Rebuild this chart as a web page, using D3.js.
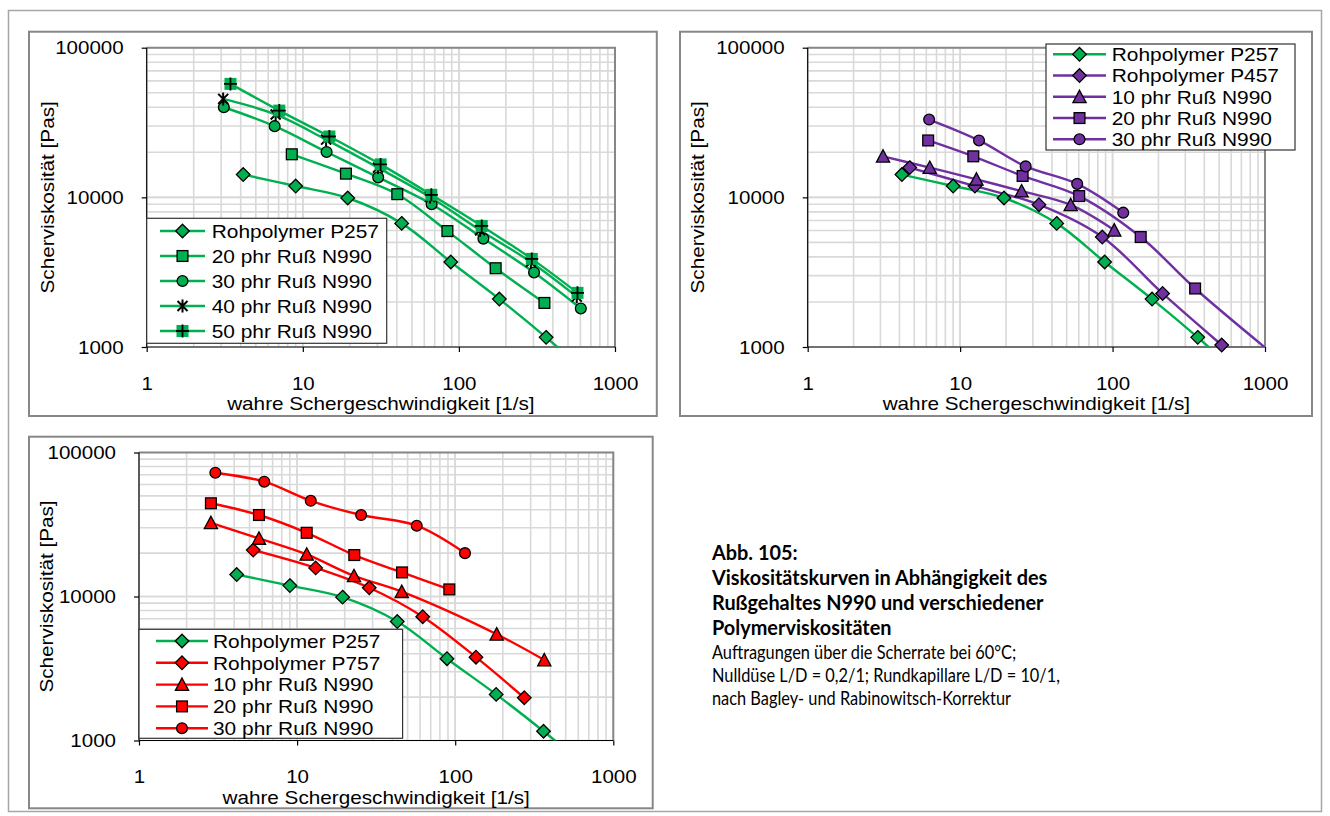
<!DOCTYPE html>
<html>
<head>
<meta charset="utf-8">
<script src="https://cdn.jsdelivr.net/npm/d3@7"></script>
<style>
  body { margin: 0; background: #fff; }
  svg text { font-family: "Liberation Sans", Arial, sans-serif; fill: #000; }
  .caption text { font-family: Lato, "Open Sans", sans-serif; }
</style>
</head>
<body>
<svg id="fig" width="1330" height="816"></svg>
<script>
// ---- axis ticks -------------------------------------------------------
const xTicks = [1, 10, 100, 1000];
const yTicks = [1000, 10000, 100000];

// ---- Rohpolymer P257 (appears in every diagram) -----------------------
const rateP257 = [4.15, 9.0, 19.4, 43, 88.7, 181.6, 362, 720];
const viscP257 = [14200, 11900, 9900, 6700, 3700, 2090, 1160, 620];

// ---- diagram 1: P257 filled with N990 ---------------------------------
const rateA20 = [8.5, 18.9, 40.3, 84.4, 172, 353];
const viscA20 = [19400, 14400, 10500, 5950, 3360, 1970];
const rateA30 = [3.12, 6.6, 14.2, 30.4, 66.9, 143.5, 303, 604];
const viscA30 = [40000, 29900, 20100, 13600, 9000, 5300, 3150, 1810];
const rateA40 = [3.09, 6.7, 14.1, 30.3, 65.3, 136.7, 289, 569];
const viscA40 = [45500, 35800, 24300, 15800, 10050, 6030, 3700, 2170];
const rateA50 = [3.44, 7.07, 14.8, 31.5, 66.6, 140, 293, 575];
const viscA50 = [57300, 38000, 25500, 16600, 10400, 6440, 3880, 2300];

// ---- diagram 2: P457 filled with N990 ---------------------------------
const rateP457 = [4.67, 12.5, 32.9, 85.6, 213, 520, 1050];
const viscP457 = [15800, 11900, 8930, 5430, 2280, 1030, 560];
const rateB10 = [3.12, 6.32, 12.8, 25.3, 53.1, 102.6];
const viscB10 = [18800, 15800, 13200, 11000, 8900, 6030];
const rateB20 = [6.17, 12.2, 25.7, 60.4, 153, 348, 1400];
const viscB20 = [24000, 18800, 13900, 10200, 5430, 2460, 750];
const rateB30 = [6.26, 13.3, 26.9, 58.6, 117.5];
const viscB30 = [33100, 24000, 16100, 12300, 7900];

// ---- diagram 3: P757 filled with N990 ---------------------------------
const rateP757 = [5.28, 13.1, 28.6, 62.3, 135.3, 273.5];
const viscP757 = [21000, 15800, 11500, 7240, 3790, 1980];
const rateC10 = [2.85, 5.74, 11.5, 22.9, 45.9, 183, 366];
const viscC10 = [32500, 25300, 19600, 13900, 10800, 5470, 3620];
const rateC20 = [2.85, 5.74, 11.5, 23.0, 46.1, 91.8];
const viscC20 = [44400, 36800, 27700, 19400, 14700, 11200];
const rateC30 = [3.04, 6.2, 12.2, 25.4, 57.1, 115.3];
const viscC30 = [72400, 62700, 46200, 36800, 31000, 20000];

// ---- legend labels ----------------------------------------------------
const labels1 = ["Rohpolymer P257", "20 phr Ruß N990", "30 phr Ruß N990", "40 phr Ruß N990", "50 phr Ruß N990"];
const labels2 = ["Rohpolymer P257", "Rohpolymer P457", "10 phr Ruß N990", "20 phr Ruß N990", "30 phr Ruß N990"];
const labels3 = ["Rohpolymer P257", "Rohpolymer P757", "10 phr Ruß N990", "20 phr Ruß N990", "30 phr Ruß N990"];

const xTitle = "wahre Schergeschwindigkeit [1/s]";
const yTitle = "Scherviskosität [Pas]";

const captionBold = ["Abb. 105:", "Viskositätskurven in Abhängigkeit des", "Rußgehaltes N990 und verschiedener", "Polymerviskositäten"];
const captionText = ["Auftragungen über die Scherrate bei 60°C;", "Nulldüse L/D = 0,2/1; Rundkapillare L/D = 10/1,", "nach Bagley- und Rabinowitsch-Korrektur"];

// ---- colours ----------------------------------------------------------
const GREEN = "#00b050", PURPLE = "#7030a0", RED = "#ff0000";
const FRAME = "#878787", GRID = "#d9d9d9";

const zip = (xs, ys) => xs.map((x, i) => ({ x, y: ys[i] }));

const svg = d3.select("#fig");

// outer page border
svg.append("rect").attr("x", 8.5).attr("y", 10.5).attr("width", 1313).attr("height", 801)
  .attr("fill", "none").attr("stroke", "#a6a6a6").attr("stroke-width", 1.5);

// scale a text node along its writing direction by factor k
function stretch(sel, k) {
  sel.each(function () {
    const w = this.getComputedTextLength();
    this.setAttribute("textLength", (w * k).toFixed(1));
    this.setAttribute("lengthAdjust", "spacingAndGlyphs");
  });
}

// marker painter
function marker(g, type, color) {
  const s = g.append("g");
  if (type === "diamond") {
    s.append("path").attr("d", "M0,-6.8L6.8,0L0,6.8L-6.8,0Z").attr("fill", color).attr("stroke", "#000").attr("stroke-width", 1.3);
  } else if (type === "square") {
    s.append("rect").attr("x", -5.4).attr("y", -5.4).attr("width", 10.8).attr("height", 10.8)
      .attr("fill", color).attr("stroke", "#000").attr("stroke-width", 1.3);
  } else if (type === "circle") {
    s.append("circle").attr("r", 5.4).attr("fill", color).attr("stroke", "#000").attr("stroke-width", 1.3);
  } else if (type === "triangle") {
    s.append("path").attr("d", "M0,-6.6L6.6,5.8L-6.6,5.8Z").attr("fill", color).attr("stroke", "#000").attr("stroke-width", 1.3);
  } else if (type === "star") {
    s.append("path").attr("d", "M-5,-5L5,5M-5,5L5,-5M0,-6.5L0,6.5").attr("stroke", "#000").attr("stroke-width", 2).attr("fill", "none");
  } else if (type === "plus") {
    s.append("rect").attr("x", -6).attr("y", -6).attr("width", 12).attr("height", 12).attr("fill", color);
    s.append("path").attr("d", "M-6.5,0L6.5,0M0,-6.5L0,6.5").attr("stroke", "#000").attr("stroke-width", 1.8);
  }
  return s;
}

const FONT = 19, K = 1.1;

function drawPanel(p, idx) {
  const root = svg.append("g");

  // panel frame
  root.append("rect").attr("x", p.frame[0]).attr("y", p.frame[1])
    .attr("width", p.frame[2] - p.frame[0]).attr("height", p.frame[3] - p.frame[1])
    .attr("fill", "#fff").attr("stroke", FRAME).attr("stroke-width", 2);

  const x = d3.scaleLog().domain([1, 1000]).range([p.plot[0], p.plot[1]]);
  const y = d3.scaleLog().domain([1000, 100000]).range([p.plot[3], p.plot[2]]);

  // grid: decades and their 2..9 sub-divisions
  const xGrid = [], yGrid = [];
  [1, 10, 100].forEach(d => { for (let k = 1; k <= 10; k++) xGrid.push(d * k); });
  [1000, 10000].forEach(d => { for (let k = 1; k <= 10; k++) yGrid.push(d * k); });
  const grid = root.append("g").attr("stroke", GRID).attr("stroke-width", 1.6);
  grid.selectAll("line.v").data(xGrid).join("line").attr("class", "v")
    .attr("x1", d => x(d)).attr("x2", d => x(d)).attr("y1", p.plot[2]).attr("y2", p.plot[3]);
  grid.selectAll("line.h").data(yGrid).join("line").attr("class", "h")
    .attr("y1", d => y(d)).attr("y2", d => y(d)).attr("x1", p.plot[0]).attr("x2", p.plot[1]);

  // plot-area border top / right
  root.append("path")
    .attr("d", `M${p.plot[0]},${p.plot[2]}H${p.plot[1]}V${p.plot[3]}`)
    .attr("fill", "none").attr("stroke", FRAME).attr("stroke-width", 2);

  // axes
  const ax = root.append("g").attr("transform", `translate(0,${p.plot[3]})`)
    .call(d3.axisBottom(x).tickValues(xTicks).tickFormat(d3.format("d")).tickSize(5).tickPadding(24.5));
  const ay = root.append("g").attr("transform", `translate(${p.plot[0]},0)`)
    .call(d3.axisLeft(y).tickValues(yTicks).tickFormat(d3.format("d")).tickSize(5).tickPadding(18));
  [ax, ay].forEach(a => {
    a.select(".domain").attr("stroke", "#000").attr("stroke-width", 1.2);
    a.selectAll(".tick line").attr("stroke", "#000").attr("stroke-width", 1.2);
    a.selectAll("text").attr("font-size", FONT).attr("font-family", null).call(stretch, 1.08);
  });
  ay.select(".domain").attr("d", `M0,${p.plot[3]}V${p.plot[2]}`);
  ax.select(".domain").attr("d", `M${p.plot[0]},0H${p.plot[1]}`);

  // axis titles
  root.append("text").attr("x", (p.plot[0] + p.plot[1]) / 2).attr("y", p.plot[3] + 63)
    .attr("text-anchor", "middle").attr("font-size", FONT).text(xTitle).call(stretch, 1.09);
  root.append("text")
    .attr("transform", `translate(${p.yTitleX},${(p.plot[2] + p.plot[3]) / 2}) rotate(-90)`)
    .attr("text-anchor", "middle").attr("font-size", FONT).text(yTitle).call(stretch, 1.09);

  // series
  const clipId = "clip" + idx;
  root.append("clipPath").attr("id", clipId).append("rect")
    .attr("x", p.plot[0]).attr("y", p.plot[2])
    .attr("width", p.plot[1] - p.plot[0]).attr("height", p.plot[3] - p.plot[2]);

  const line = d3.line().x(d => x(d.x)).y(d => y(d.y)).curve(d3.curveCatmullRom.alpha(0.5));
  const inside = d => d.x >= 1 && d.x <= 1000 && d.y >= 1000 && d.y <= 100000;

  const series = root.append("g");
  p.series.forEach(s => {
    series.append("path").datum(s.data).attr("d", line).attr("fill", "none")
      .attr("stroke", s.color).attr("stroke-width", 2.4).attr("clip-path", `url(#${clipId})`);
  });
  p.series.forEach(s => {
    s.data.filter(inside).forEach(d => {
      marker(series, s.marker, s.color).attr("transform", `translate(${x(d.x)},${y(d.y)})`);
    });
  });

  // legend
  const L = p.legend;
  const lg = root.append("g");
  lg.append("rect").attr("x", L.x).attr("y", L.y).attr("width", L.w).attr("height", L.h)
    .attr("fill", "#fff").attr("stroke", "#333").attr("stroke-width", 1.2);
  p.series.forEach((s, i) => {
    const cy = L.row0 + i * L.dy;
    lg.append("line").attr("x1", L.l0).attr("x2", L.l1).attr("y1", cy).attr("y2", cy)
      .attr("stroke", s.color).attr("stroke-width", 2.4);
    marker(lg, s.marker, s.color).attr("transform", `translate(${(L.l0 + L.l1) / 2},${cy})`);
    lg.append("text").attr("x", L.tx).attr("y", cy + 6.8).attr("font-size", FONT)
      .text(p.labels[i]).call(stretch, K);
  });
}

const panels = [
  {
    frame: [29, 31.7, 656.8, 416], plot: [146.7, 615, 47.7, 347], yTitleX: 54,
    labels: labels1,
    legend: { x: 146.7, y: 218.3, w: 240, h: 125, row0: 231, dy: 25, l0: 160, l1: 205, tx: 211.7 },
    series: [
      { data: zip(rateP257, viscP257), color: GREEN, marker: "diamond" },
      { data: zip(rateA20, viscA20), color: GREEN, marker: "square" },
      { data: zip(rateA30, viscA30), color: GREEN, marker: "circle" },
      { data: zip(rateA40, viscA40), color: GREEN, marker: "star" },
      { data: zip(rateA50, viscA50), color: GREEN, marker: "plus" }
    ]
  },
  {
    frame: [680, 31.7, 1312, 416], plot: [807.7, 1265, 47.7, 347], yTitleX: 704,
    labels: labels2,
    legend: { x: 1046, y: 44, w: 249, h: 106, row0: 54.3, dy: 21.25, l0: 1053, l1: 1106, tx: 1111.7 },
    series: [
      { data: zip(rateP257, viscP257), color: GREEN, marker: "diamond" },
      { data: zip(rateP457, viscP457), color: PURPLE, marker: "diamond" },
      { data: zip(rateB10, viscB10), color: PURPLE, marker: "triangle" },
      { data: zip(rateB20, viscB20), color: PURPLE, marker: "square" },
      { data: zip(rateB30, viscB30), color: PURPLE, marker: "circle" }
    ]
  },
  {
    frame: [29, 436.7, 652.7, 808.3], plot: [139, 613.3, 452.5, 740.5], yTitleX: 53,
    labels: labels3,
    legend: { x: 139, y: 629.3, w: 263.6, h: 109, row0: 641, dy: 21.8, l0: 156, l1: 208, tx: 213 },
    series: [
      { data: zip(rateP257, viscP257), color: GREEN, marker: "diamond" },
      { data: zip(rateP757, viscP757), color: RED, marker: "diamond" },
      { data: zip(rateC10, viscC10), color: RED, marker: "triangle" },
      { data: zip(rateC20, viscC20), color: RED, marker: "square" },
      { data: zip(rateC30, viscC30), color: RED, marker: "circle" }
    ]
  }
];

panels.forEach(drawPanel);

// caption block (narrow humanist face imitated by condensing Lato)
const cap = svg.append("g").attr("class", "caption");
captionBold.forEach((t, i) => {
  cap.append("text").attr("x", 712).attr("y", 560 + i * 25).attr("font-size", 20.5)
    .attr("font-weight", "bold").text(t).call(stretch, 0.97);
});
captionText.forEach((t, i) => {
  cap.append("text").attr("x", 712).attr("y", 659 + i * 23).attr("font-size", 19)
    .text(t).call(stretch, 0.86);
});
</script>
</body>
</html>
